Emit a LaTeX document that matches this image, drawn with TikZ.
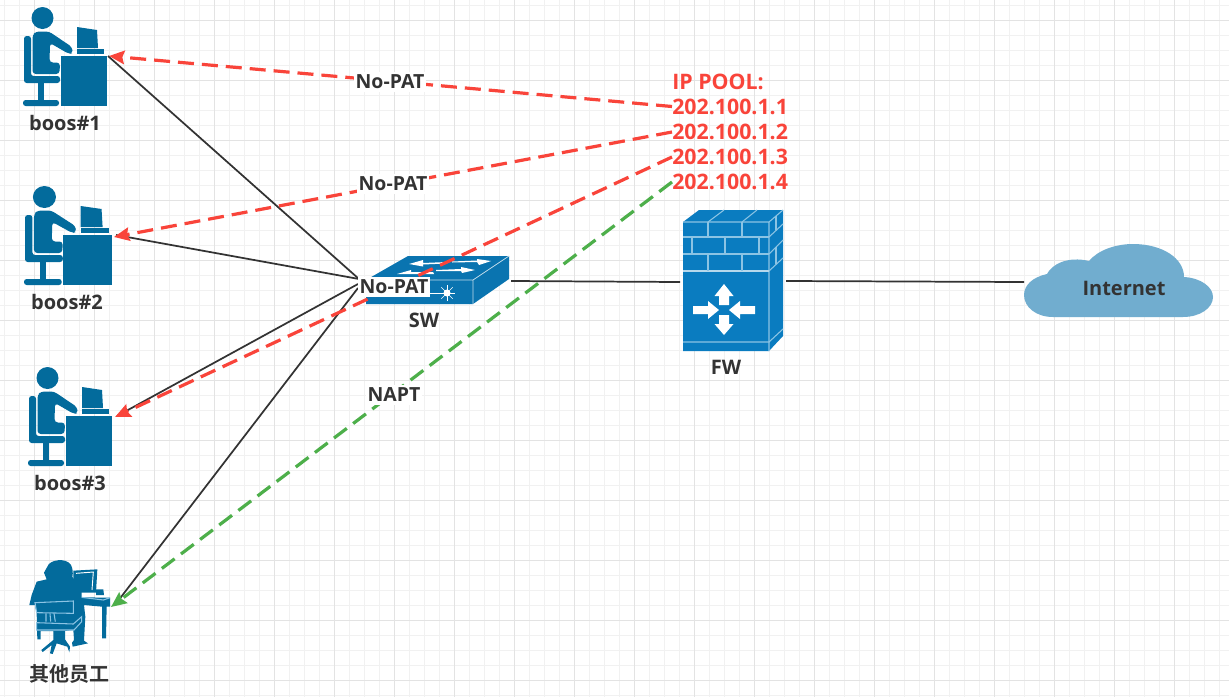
\documentclass[tikz,border=0pt]{standalone}
\usepackage{fontspec}
\setmainfont{Open Sans}
\newfontfamily\cjkfont{Noto Sans CJK SC}[BoldFont={Noto Sans CJK SC Bold}]
\usetikzlibrary{arrows.meta}
\definecolor{iconblue}{HTML}{036B9C}
\definecolor{swblue}{HTML}{0A74B0}
\definecolor{fwblue}{HTML}{0A7CC0}
\definecolor{fwedge}{HTML}{8CC4E4}
\definecolor{cloudblue}{HTML}{71ADCF}
\definecolor{poolred}{HTML}{F9443A}
\definecolor{naptgreen}{HTML}{4DAF4A}
\definecolor{labelgrey}{HTML}{333333}
\definecolor{gridminor}{HTML}{F1F1F1}
\definecolor{gridmajor}{HTML}{E3E3E3}
\tikzset{
  devlabel/.style={font=\fontsize{15pt}{17pt}\selectfont\bfseries, text=labelgrey, inner sep=0pt},
  patlabel/.style={font=\fontsize{14.6pt}{16pt}\selectfont\bfseries, text=labelgrey, fill=white, inner xsep=1pt, inner ysep=2pt},
  poollabel/.style={font=\fontsize{16pt}{18pt}\selectfont\bfseries, text=poolred, inner sep=0pt, anchor=west},
  wire/.style={draw=labelgrey, line width=1.3pt},
  assign/.style={line width=2.4pt, dash pattern=on 12pt off 6pt, -{Stealth[length=11.5pt,width=10pt,inset=1.5pt]}},
  redassign/.style={assign, draw=poolred, color=poolred},
  greenassign/.style={assign, draw=naptgreen, color=naptgreen},
  fwline/.style={draw=fwedge, line width=0.8pt},
}
\newcommand{\bossicon}[3]{%
\begin{scope}[shift={(#1,#2)}, xscale=#3, fill=iconblue, draw=none]
  \fill (42.5,18) circle (11);
  \fill[rounded corners=2pt] (24,36) -- (31,36) -- (31,76) -- (60,76) -- (60,83) -- (24,83) -- cycle;
  \fill (38,83) rectangle (44,100);
  \fill[rounded corners=2pt] (23,100) rectangle (59,106);
  \fill[rounded corners=2.5pt] (32.5,35) -- (36,31.5) -- (49,31.5) -- (72,47) -- (73,53) -- (69,54) -- (50,43) -- (49.5,62.5) -- (60,62.5) -- (59.5,74) -- (32.5,74) -- cycle;
  \fill (60.5,55.5) rectangle (107,105.5);
  \fill (77,27) -- (97,30) -- (98,48) -- (77,48) -- cycle;
  \fill (77,49) rectangle (104,54);
\end{scope}}
\begin{document}
\begin{tikzpicture}[x=0.75pt,y=-0.75pt]
\useasboundingbox (0,0) rectangle (1229,697);
\fill[white] (0,0) rectangle (1229,697);
% grid
\foreach \gx in {4.5,19.5,...,1229} \draw[gridminor,line width=0.75pt] (\gx,0) -- (\gx,697);
\foreach \gy in {5.5,20.5,...,697} \draw[gridminor,line width=0.75pt] (0,\gy) -- (1229,\gy);
\foreach \gx in {34.5,94.5,...,1229} \draw[gridmajor,line width=0.75pt] (\gx,0) -- (\gx,697);
\foreach \gy in {20.5,80.5,...,697} \draw[gridmajor,line width=0.75pt] (0,\gy) -- (1229,\gy);

% icons
\bossicon{0}{0}{1}
\bossicon{-0.1}{179}{1.048}
\bossicon{5}{360}{1}

% other staff icon
\begin{scope}[shift={(10,550)}, x=0.25pt, y=-0.25pt]
  \fill[iconblue] (112,50) .. controls (118,28) and (170,22) .. (183,45) .. controls (188,55) and (190,68) .. (187,80)
     -- (195,92) -- (215,125) -- (215,142) -- (300,143) -- (300,170) -- (290,170) -- (288,265) -- (276,265) -- (276,170) -- (222,165)
     -- (226,200) -- (222,272) -- (234,280) -- (188,290) -- (186,278) -- (192,270) -- (190,240) -- (165,243) -- (165,268)
     -- (180,290) -- (178,307) -- (172,290) -- (140,280) -- (128,312) -- (120,310) -- (125,285) -- (98,306) -- (94,300) -- (130,270) -- (130,243) -- (92,243) -- (92,268) -- (82,268) -- (80,190) -- (75,165) -- (58,165)
     -- (65,135) -- (80,95) -- (110,88) -- (102,68) -- cycle;
  \fill[iconblue] (190,62) -- (262,58) -- (258,128) -- (212,128) -- (190,100) -- cycle;
  \draw[white,line width=0.7pt] (198,70) -- (250,66) -- (246,120);
  \draw[fwedge,line width=0.8pt,fill=iconblue] (75,158) -- (190,153) -- (190,190) -- (80,188) -- cycle;
  \draw[fwedge,line width=0.8pt,fill=iconblue] (80,218) -- (190,222) -- (215,200) -- (215,215) -- (192,240) -- (80,240) -- cycle;
  \draw[fwedge,line width=0.8pt] (108,190) -- (108,215) (120,190) -- (122,215) (132,190) -- (136,215);
  \draw[fwedge,line width=0.8pt] (215,142) -- (280,150) -- (300,143);
  \fill[iconblue] (258,118) -- (280,118) -- (282,135) -- (258,135) -- cycle;
\end{scope}

% switch
\fill[swblue] (366,280) -- (408,256) -- (509,256) -- (509,279) -- (473,304) -- (366,304) -- cycle;
\draw[white!75!swblue,line width=0.6pt] (366,280) -- (473,280) -- (509,256) (473,280) -- (473,304);
\fill[white] (409,264) -- (423,260) -- (423,263) -- (447,262) -- (447,263.5) -- (423,264.5) -- (423,266.5) -- cycle;
\fill[white] (491,261) -- (477,259) -- (477,260.5) -- (452,261.5) -- (452,262.5) -- (477,262) -- (479,265) -- cycle;
\fill[white] (397,274) -- (411,270) -- (411,272) -- (433,272) -- (434,274) -- cycle;
\fill[white] (475,270) -- (461,267) -- (461,269) -- (436,270) -- (436,271) -- (461,271) -- (462,273) -- cycle;
\draw[white,line width=0.6pt] (430,293) -- (447,293);
\fill[white] (447,293) circle (3.5);
\foreach \sa in {0,45,...,315} \draw[white,line width=0.5pt] (447,293) -- ++(\sa:8);

% firewall
\fill[fwblue] (683,222) -- (699,210) -- (783,210) -- (783,336) -- (769,351) -- (683,351) -- cycle;
\draw[fwline] (683,222) -- (769,222) -- (783,210) (769,222) -- (769,351);
\draw[fwline] (683,237) -- (769,237) (683,254) -- (769,254);
\draw[white!70!fwblue,line width=1pt] (683,271) -- (769,271);
\draw[fwline] (683,342) -- (769,342) -- (783,329);
\draw[fwline] (708,222) -- (708,237) (742,222) -- (742,237) (692,237) -- (692,254) (725,237) -- (725,254) (759,237) -- (759,254) (708,254) -- (708,271) (742,254) -- (742,271);
\draw[fwline] (708,222) -- (724,210) (742,222) -- (757,210);
\draw[fwline] (769,237) -- (783,224) (769,254) -- (783,240) (769,271) -- (783,258);
\draw[fwline] (776,216) -- (776,230) (776,247) -- (776,264);
\begin{scope}[shift={(724,310)}]
  \fill[white] (-5,-5) -- (-5,-14) -- (-9.5,-14) -- (0,-26) -- (9.5,-14) -- (5,-14) -- (5,-5) -- cycle;
  \fill[white] (-5,5) -- (-5,14) -- (-9.5,14) -- (0,25) -- (9.5,14) -- (5,14) -- (5,5) -- cycle;
  \fill[white] (-31,-4) -- (-16,-4) -- (-16,-9) -- (-5,0) -- (-16,9) -- (-16,4) -- (-31,4) -- cycle;
  \fill[white] (31,-4) -- (16,-4) -- (16,-9) -- (5,0) -- (16,9) -- (16,4) -- (31,4) -- cycle;
\end{scope}

% cloud
\fill[cloudblue] (1053,317) .. controls (1036,317) and (1024,307) .. (1024,295)
  .. controls (1024,285) and (1033,277) .. (1047,274)
  .. controls (1052,264) and (1068,256) .. (1089,261)
  .. controls (1098,250) and (1116,244) .. (1133,244)
  .. controls (1162,244) and (1184,258) .. (1184,277)
  .. controls (1201,278) and (1213,287) .. (1213,297)
  .. controls (1213,308) and (1200,317) .. (1183,317) -- cycle;

% anchors
\coordinate (boss1wire) at (108,56);
\coordinate (boss2wire) at (116,235);
\coordinate (boss3wire) at (117,416);
\coordinate (staffwire) at (118,601);
\coordinate (swleft) at (359,279);
\coordinate (swleftb) at (358,284);
\coordinate (swleftc) at (358,288);
\coordinate (swright) at (511,281);
\coordinate (fwleft) at (680,282);
\coordinate (fwright) at (786,281);
\coordinate (cloudleft) at (1024,282);
\coordinate (boss1tip) at (109,56);
\coordinate (boss2tip) at (114,237);
\coordinate (boss3tip) at (115,417);
\coordinate (stafftip) at (111,607);

% wires
\draw[wire] (boss1wire) -- (swleft);
\draw[wire] (boss2wire) -- (swleft);
\draw[wire] (boss3wire) -- (swleftb);
\draw[wire] (staffwire) -- (swleftc);
\draw[wire] (swright) -- (fwleft);
\draw[wire] (fwright) -- (cloudleft);

% pool
\node[poollabel] (poolhead) at (672,82) {IP POOL:};
\node[poollabel] (pool1) at (672,106.5) {202.100.1.1};
\node[poollabel] (pool2) at (672,132) {202.100.1.2};
\node[poollabel] (pool3) at (672,157) {202.100.1.3};
\node[poollabel] (pool4) at (672,182) {202.100.1.4};

% assignments
\draw[redassign] (pool1.west) -- (boss1tip);
\draw[redassign] (pool2.west) -- (boss2tip);
\draw[redassign] (pool3.west) -- (boss3tip);
\draw[greenassign] (pool4.west) -- (stafftip);

% labels
\node[patlabel] (pat1) at (390,82) {No-PAT};
\node[patlabel] (pat2) at (393,184) {No-PAT};
\node[patlabel] (pat3) at (394,287) {No-PAT};
\node[patlabel] (napt) at (394,395) {NAPT};
\node[devlabel] (b1) at (65,123) {boos\#1};
\node[devlabel] (b2) at (67,302) {boos\#2};
\node[devlabel] (b3) at (70,483) {boos\#3};
\node[devlabel] (st) at (70,674) {\cjkfont\bfseries 其他员工};
\node[devlabel] (sw) at (424,320) {SW};
\node[devlabel] (fw) at (726,367) {FW};
\node[devlabel] (inet) at (1124,288) {Internet};
\end{tikzpicture}
\end{document}
